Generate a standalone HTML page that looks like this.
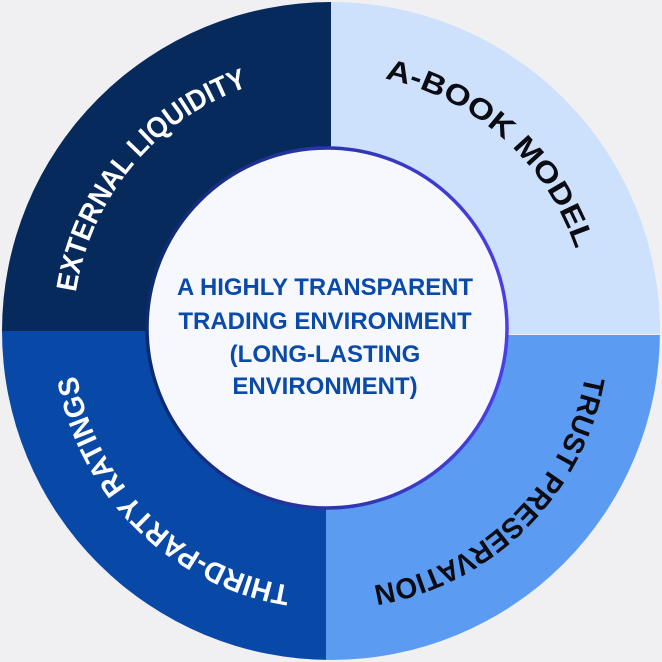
<!DOCTYPE html>
<html><head><meta charset="utf-8"><style>
html,body{margin:0;padding:0;background:#f0f0f3;}
svg{display:block}
</style></head><body>
<svg width="662" height="662" viewBox="0 0 662 662" xmlns="http://www.w3.org/2000/svg">
<defs>
<clipPath id="c"><circle cx="331" cy="331" r="329"/></clipPath>
<linearGradient id="g" x1="0" y1="0" x2="1" y2="0">
<stop offset="0" stop-color="#0d2a6e"/><stop offset="1" stop-color="#4a3fe6"/></linearGradient>
<path id="p1" d="M 75.9 292.4 A 258 258 0 0 1 253.0 85.1"/>
<path id="p2" d="M 384.6 78.6 A 258 258 0 0 1 577.3 254.3"/>
<path id="p3" d="M 585.1 375.8 A 258 258 0 0 1 368.3 586.3"/>
<path id="p4" d="M 290.6 585.8 A 258 258 0 0 1 75.9 369.6"/>
</defs>
<rect width="662" height="662" fill="#f0f0f3"/>
<g clip-path="url(#c)">
<rect x="0" y="0" width="331" height="331" fill="#062a5c"/>
<rect x="331" y="0" width="331" height="334" fill="#cde0fc"/>
<rect x="326" y="335" width="336" height="327" fill="#5b9cf2"/>
<rect x="0" y="331" width="326" height="331" fill="#0849a8"/>
</g>
<circle cx="327" cy="328" r="180" fill="#f6f8fe" stroke="url(#g)" stroke-width="3.5"/>
<g font-family="Liberation Sans, sans-serif" font-weight="bold" font-size="29">
<text fill="#ffffff"><textPath href="#p1" textLength="282" lengthAdjust="spacingAndGlyphs">EXTERNAL LIQUIDITY</textPath></text>
<text fill="#0b0b12"><textPath href="#p2" textLength="268" lengthAdjust="spacingAndGlyphs">A-BOOK MODEL</textPath></text>
<text fill="#0b0b12"><textPath href="#p3" textLength="318" lengthAdjust="spacingAndGlyphs">TRUST PRESERVATION</textPath></text>
<text fill="#ffffff"><textPath href="#p4" textLength="320" lengthAdjust="spacingAndGlyphs">THIRD-PARTY RATINGS</textPath></text>
</g>
<g font-family="Liberation Sans, sans-serif" font-weight="bold" font-size="24" fill="#0a4aa8" text-anchor="middle">
<text x="325" y="295" textLength="296" lengthAdjust="spacingAndGlyphs">A HIGHLY TRANSPARENT</text>
<text x="325" y="329">TRADING ENVIRONMENT</text>
<text x="325" y="362">(LONG-LASTING</text>
<text x="325" y="394">ENVIRONMENT)</text>
</g>
</svg>
</body></html>
